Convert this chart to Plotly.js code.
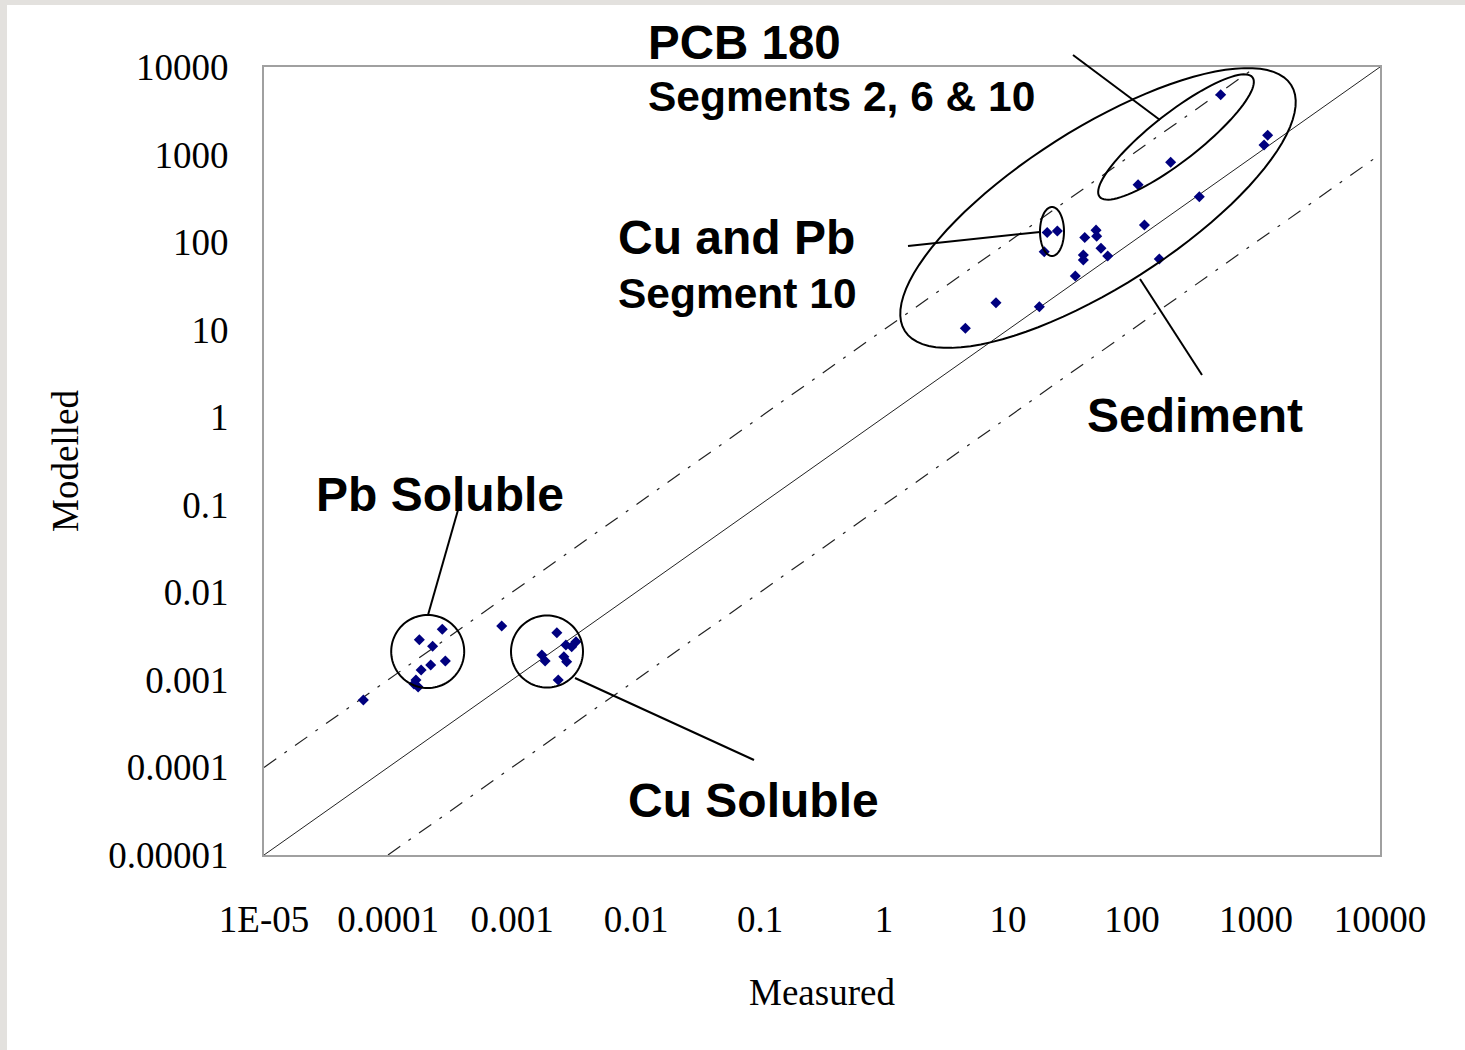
<!DOCTYPE html>
<html>
<head>
<meta charset="utf-8">
<script src="https://cdn.plot.ly/plotly-3.0.1.min.js"></script>
<style>
  html, body { margin: 0; padding: 0; width: 1465px; height: 1050px; overflow: hidden; background: #e3e1de; }
  #chart { position: absolute; left: 7px; top: 5px; width: 1458px; height: 1045px; background: #ffffff; }
</style>
</head>
<body>
<div id="chart"></div>
<script>
// ---------------- data ----------------
// Pb soluble (measured, modelled)
const pbX = [2.74e-4, 1.79e-4, 2.29e-4, 2.90e-4, 2.21e-4, 1.85e-4, 1.68e-4, 1.75e-4, 1.62e-4, 6.33e-5, 8.26e-4];
const pbY = [3.79e-3, 2.88e-3, 2.42e-3, 1.64e-3, 1.48e-3, 1.30e-3, 9.98e-4, 8.30e-4, 8.97e-4, 5.89e-4, 4.12e-3];
// Cu soluble
const cuX = [2.30e-3, 1.74e-3, 1.85e-3, 2.72e-3, 3.03e-3, 3.28e-3, 2.62e-3, 2.76e-3, 2.36e-3];
const cuY = [3.46e-3, 1.92e-3, 1.64e-3, 2.50e-3, 2.39e-3, 2.73e-3, 1.84e-3, 1.61e-3, 9.98e-4];
// Sediment (incl. Cu and Pb segment 10)
const sedX = [20.7, 25.0, 19.6, 41.6, 51.3, 51.9, 40.5, 40.5, 56.2, 63.7, 34.9, 8.0, 17.9, 4.53, 126, 166, 349];
const sedY = [129, 134, 77.6, 113, 137, 117, 71.2, 62.4, 84.9, 69.4, 41.0, 20.3, 18.3, 10.4, 157, 64.1, 330];
// PCB 180, segments 2, 6 & 10
const pcbX = [519, 1242, 1161, 205, 112];
const pcbY = [4820, 1660, 1285, 815, 452];

// reference lines: 1:1 and factor-of-ten bounds
const lineX = [1e-5, 1e4];
const lineY = [1e-5, 1e4];
const upperX = [1e-5, 1e3];
const upperY = [1e-4, 1e4];
const lowerX = [1e-4, 1e4];
const lowerY = [1e-5, 1e3];

// axis ticks
const tickVals = [1e-5, 1e-4, 1e-3, 1e-2, 1e-1, 1, 10, 100, 1000, 10000];
const xTickText = ["1E-05", "0.0001", "0.001", "0.01", "0.1", "1", "10", "100", "1000", "10000"];
const yTickText = ["0.00001", "0.0001", "0.001", "0.01", "0.1", "1", "10", "100", "1000", "10000"];

// ---------------- layout helpers (page pixels -> paper) ----------------
const PL = 264, PR = 1380, PT = 67, PB = 855;
function px(X) { return (X - PL) / (PR - PL); }
function py(Y) { return (PB - Y) / (PB - PT); }

function ellipsePath(cx, cy, a, b, angDeg) {
  const th = angDeg * Math.PI / 180;
  const n = 96;
  let d = "";
  for (let i = 0; i <= n; i++) {
    const t = 2 * Math.PI * i / n;
    const X = cx + a * Math.cos(t) * Math.cos(th) + b * Math.sin(t) * Math.sin(th);
    const Y = cy - a * Math.cos(t) * Math.sin(th) + b * Math.sin(t) * Math.cos(th);
    d += (i === 0 ? "M" : "L") + px(X).toFixed(5) + "," + py(Y).toFixed(5);
  }
  return d + "Z";
}

function ell(cx, cy, a, b, ang) {
  return { type: "path", xref: "paper", yref: "paper", path: ellipsePath(cx, cy, a, b, ang),
           line: { color: "#000000", width: 2 }, fillcolor: "rgba(0,0,0,0)" };
}
function seg(x0, y0, x1, y1) {
  return { type: "line", xref: "paper", yref: "paper", x0: px(x0), y0: py(y0), x1: px(x1), y1: py(y1),
           line: { color: "#000000", width: 2 } };
}

const markerStyle = { symbol: "diamond", size: 8.5, color: "#00007f" };
function pts(x, y, name) {
  return { x: x, y: y, type: "scatter", mode: "markers", name: name, marker: markerStyle, showlegend: false, hoverinfo: "x+y" };
}

const dashDot = "15px,10px,3px,10px";
const traces = [
  { x: lineX, y: lineY, type: "scatter", mode: "lines", line: { color: "#222222", width: 1 }, showlegend: false, hoverinfo: "skip" },
  { x: upperX, y: upperY, type: "scatter", mode: "lines", line: { color: "#222222", width: 1.2, dash: dashDot }, showlegend: false, hoverinfo: "skip" },
  { x: lowerX, y: lowerY, type: "scatter", mode: "lines", line: { color: "#222222", width: 1.2, dash: dashDot }, showlegend: false, hoverinfo: "skip" },
  pts(pbX, pbY, "Pb Soluble"),
  pts(cuX, cuY, "Cu Soluble"),
  pts(sedX, sedY, "Sediment"),
  pts(pcbX, pcbY, "PCB 180")
];

const labelFont = (s) => ({ family: "Liberation Sans, Arial, sans-serif", size: s, color: "#000000", weight: "bold" });
function label(text, X, Y, size) {
  return { text: "<b>" + text + "</b>", xref: "paper", yref: "paper", x: px(X), y: py(Y),
           xanchor: "left", yanchor: "middle", showarrow: false, font: labelFont(size) };
}

const tickFont = { family: "Liberation Serif, Times New Roman, serif", size: 37, color: "#000000" };
const titleFont = { family: "Liberation Serif, Times New Roman, serif", size: 37, color: "#000000" };

const layout = {
  width: 1458, height: 1045,
  margin: { l: 257, r: 85, t: 62, b: 195, autoexpand: false },
  paper_bgcolor: "#ffffff", plot_bgcolor: "#ffffff",
  showlegend: false,
  xaxis: {
    type: "log", range: [-5, 4], autorange: false,
    tickvals: tickVals, ticktext: xTickText, tickfont: tickFont,
    ticks: "", showgrid: false, zeroline: false,
    showline: true, mirror: true, linecolor: "#a0a0a0", linewidth: 2,
    ticklabelstandoff: 31,
    title: { text: "Measured", font: titleFont, standoff: 40 },
    automargin: false
  },
  yaxis: {
    type: "log", range: [-5, 4], autorange: false,
    tickvals: tickVals, ticktext: yTickText, tickfont: tickFont,
    ticks: "", showgrid: false, zeroline: false,
    showline: true, mirror: true, linecolor: "#a0a0a0", linewidth: 2,
    ticklabelstandoff: 26,
    title: { text: "Modelled", font: titleFont, standoff: 18 },
    automargin: false
  },
  shapes: [
    ell(1098, 208, 229, 79, 32.5),
    ell(1176, 137, 97, 24, 38),
    ell(1052, 231.5, 12, 24.5, 0),
    ell(427.7, 651.5, 36.5, 36.5, 0),
    ell(547, 651.5, 36, 36, 0),
    seg(1073, 55, 1160, 120),
    seg(908, 246, 1040, 232),
    seg(1140, 279, 1202, 375),
    seg(458, 510, 428, 615),
    seg(575, 678, 754, 760)
  ],
  annotations: [
    label("PCB 180", 646, 42, 47.5),
    label("Segments 2, 6 &amp; 10", 646, 97, 42.5),
    label("Cu and Pb", 616, 238, 48),
    label("Segment 10", 616, 293, 42.5),
    label("Sediment", 1085, 415, 48),
    label("Pb Soluble", 314, 495, 48),
    label("Cu Soluble", 626, 800, 48)
  ]
};

Plotly.newPlot("chart", traces, layout, { displayModeBar: false, staticPlot: true });
</script>
</body>
</html>
